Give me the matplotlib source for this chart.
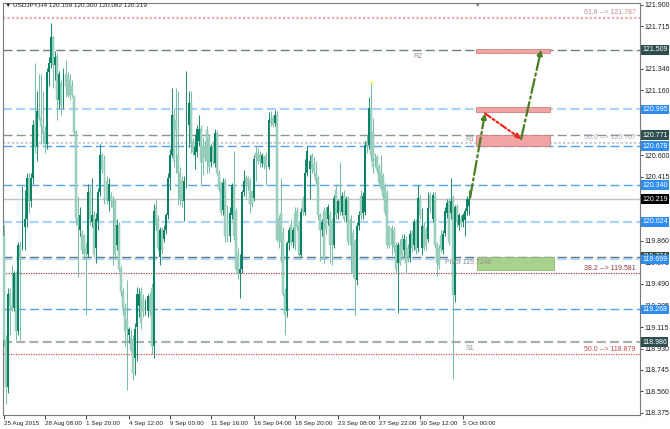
import matplotlib
matplotlib.use('Agg')
import matplotlib.pyplot as plt
from matplotlib.patches import Rectangle
from matplotlib.transforms import blended_transform_factory

# USDJPY H4 bars (open / high / low / close)
opens = [119.90, 119.00, 118.60, 119.40, 119.30, 119.28, 119.58, 119.08, 119.82, 119.80,
         119.98, 120.05, 120.40, 120.20, 120.40, 120.86, 120.68, 120.98, 120.92, 120.85,
         120.80, 120.70, 121.32, 121.40, 121.62, 121.38, 121.45, 121.08, 121.22, 121.03,
         121.30, 121.28, 121.25, 121.20, 121.10, 120.80, 120.06, 119.95, 119.92, 119.90,
         119.80, 119.75, 120.28, 120.02, 120.08, 119.80, 120.03, 120.28, 120.60, 120.55,
         120.38, 120.20, 120.25, 120.20, 120.20, 119.82, 120.00, 119.62, 119.42, 119.28,
         119.18, 119.05, 119.02, 119.00, 118.85, 119.12, 119.30, 119.42, 119.35, 119.28,
         119.25, 119.38, 119.45, 118.95, 120.15, 120.05, 119.72, 119.95, 119.88, 119.95,
         120.08, 120.40, 120.60, 120.95, 120.90, 120.60, 120.45, 120.38, 120.20, 120.38,
         120.86, 121.05, 120.71, 120.60, 120.63, 120.72, 120.83, 120.68, 120.68, 120.82,
         120.75, 120.54, 120.68, 120.53, 120.79, 120.44, 120.36, 120.13, 120.38, 120.05,
         119.90, 120.08, 120.34, 120.11, 119.75, 119.58, 119.62, 120.28, 120.40, 120.40,
         120.38, 120.28, 120.23, 120.62, 120.62, 120.60, 120.53, 120.58, 120.58, 120.50,
         120.92, 120.92, 120.88, 120.95, 120.05, 120.10, 119.93, 119.40, 119.25, 119.84,
         120.00, 119.85, 120.10, 120.12, 119.99, 119.74, 120.20, 120.11, 120.45, 120.48,
         120.60, 120.52, 120.45, 120.40, 120.08, 119.95, 120.12, 120.12, 120.05, 120.08,
         120.03, 119.82, 120.30, 120.10, 120.20, 120.11, 120.25, 120.08, 120.22, 120.05,
         119.93, 119.85, 119.52, 119.99, 120.25, 120.10, 120.11, 120.72, 120.69, 121.01,
         120.80, 120.57, 120.58, 120.50, 120.45, 120.42, 120.34, 120.27, 119.97, 119.97,
         119.95, 119.82, 119.67, 119.82, 119.88, 119.78, 119.87, 119.80, 119.71, 119.92,
         119.82, 120.02, 119.80, 120.23, 119.80, 119.99, 119.95, 119.88, 120.25, 120.05,
         120.25, 119.82, 119.80, 119.90, 119.78, 119.93, 120.10, 120.20, 120.10, 120.23,
         119.39, 120.15, 120.00, 120.05, 120.02, 120.04, 120.12, 120.159]
highs = [120.00, 119.05, 119.45, 119.45, 119.65, 119.60, 119.60, 119.85, 119.86, 120.33,
         120.30, 120.45, 120.45, 120.45, 120.90, 121.40, 121.15, 121.30, 121.30, 121.15,
         120.85, 121.35, 121.45, 121.74, 121.63, 121.50, 121.48, 121.33, 121.25, 121.35,
         121.42, 121.32, 121.30, 121.25, 121.12, 120.82, 120.25, 120.15, 119.95, 119.92,
         119.85, 120.35, 120.33, 120.40, 120.12, 120.10, 120.32, 120.70, 120.62, 120.60,
         120.42, 120.40, 120.28, 120.25, 120.22, 120.05, 120.02, 119.65, 119.45, 119.32,
         119.52, 119.12, 119.10, 119.05, 119.15, 119.46, 119.45, 119.46, 119.40, 119.36,
         119.40, 119.42, 119.50, 120.18, 120.22, 120.08, 119.98, 119.98, 120.00, 120.10,
         120.45, 120.65, 121.18, 121.00, 121.18, 121.15, 120.50, 120.42, 120.42, 121.33,
         121.15, 121.15, 120.75, 120.78, 120.86, 120.95, 120.86, 120.76, 120.72, 120.85,
         120.78, 120.70, 120.72, 120.83, 120.82, 120.47, 120.38, 120.40, 120.40, 120.17,
         120.15, 120.36, 120.64, 120.14, 119.80, 119.75, 120.30, 120.47, 120.43, 120.42,
         120.40, 120.30, 120.60, 120.68, 120.66, 120.64, 120.62, 120.60, 120.63, 120.97,
         120.98, 120.95, 120.99, 120.98, 120.08, 120.40, 119.98, 119.45, 119.86, 119.98,
         120.05, 119.98, 120.15, 120.15, 120.02, 120.14, 120.25, 120.57, 120.68, 120.60,
         120.62, 120.58, 120.55, 120.42, 120.10, 120.05, 120.15, 120.15, 120.18, 120.12,
         120.06, 120.26, 120.35, 120.22, 120.54, 120.28, 120.30, 120.25, 120.25, 120.08,
         119.96, 119.88, 120.02, 120.12, 120.30, 120.28, 120.72, 120.78, 121.10, 121.23,
         120.92, 120.62, 120.60, 120.52, 120.60, 120.45, 120.36, 120.30, 120.00, 120.00,
         119.98, 119.85, 119.85, 119.88, 119.92, 119.92, 119.90, 119.83, 119.95, 119.95,
         120.05, 120.05, 120.34, 120.26, 120.14, 120.02, 119.98, 120.28, 120.28, 120.28,
         120.28, 119.85, 119.82, 119.95, 119.95, 120.15, 120.22, 120.23, 120.40, 120.26,
         120.17, 120.18, 120.10, 120.08, 120.10, 120.14, 120.25, 120.300]
lows = [118.95, 118.45, 118.55, 119.05, 119.25, 119.25, 119.00, 119.05, 119.00, 119.78,
        119.78, 119.98, 120.10, 120.15, 120.35, 120.62, 120.55, 120.90, 120.70, 120.70,
        120.62, 120.65, 121.20, 121.35, 121.18, 121.25, 120.90, 121.00, 120.95, 121.00,
        121.10, 121.10, 121.08, 121.10, 120.78, 120.00, 119.55, 119.90, 119.75, 119.70,
        119.22, 119.72, 120.00, 119.98, 119.72, 119.67, 119.95, 120.25, 120.45, 120.18,
        120.18, 120.12, 120.15, 119.65, 119.70, 119.78, 119.60, 119.38, 119.22, 118.95,
        118.57, 118.98, 118.90, 118.66, 118.70, 118.82, 119.20, 119.10, 119.20, 119.22,
        119.20, 119.22, 118.88, 118.85, 119.95, 119.78, 119.65, 119.75, 119.85, 119.92,
        120.05, 120.30, 120.58, 120.50, 120.45, 120.17, 120.17, 120.15, 120.03, 120.32,
        120.67, 120.62, 120.60, 120.48, 120.58, 120.68, 120.34, 120.43, 120.55, 120.45,
        120.45, 120.50, 120.52, 120.50, 120.43, 120.29, 120.08, 120.08, 119.85, 119.85,
        119.85, 120.05, 119.87, 119.60, 119.53, 119.37, 119.58, 120.25, 120.22, 120.30,
        120.10, 120.15, 120.20, 120.38, 120.52, 120.50, 120.50, 120.48, 120.34, 120.48,
        120.85, 120.84, 120.85, 119.85, 119.80, 119.68, 119.38, 119.05, 119.20, 119.78,
        119.82, 119.80, 119.78, 119.95, 119.70, 119.72, 120.08, 120.08, 120.42, 120.22,
        120.45, 120.42, 120.35, 120.04, 119.69, 119.90, 119.67, 119.92, 120.00, 119.67,
        119.65, 119.80, 120.05, 120.05, 120.08, 120.08, 120.02, 120.02, 119.82, 119.58,
        119.55, 119.22, 119.48, 119.95, 120.05, 120.05, 120.08, 120.62, 120.65, 120.55,
        120.45, 120.50, 120.45, 120.35, 120.30, 120.22, 120.08, 119.80, 119.80, 119.74,
        119.76, 119.58, 119.24, 119.65, 119.70, 119.72, 119.58, 119.68, 119.68, 119.76,
        119.78, 119.75, 119.76, 120.05, 119.74, 119.78, 119.78, 119.85, 120.10, 120.02,
        119.80, 119.56, 119.62, 119.76, 119.75, 119.90, 120.06, 119.82, 120.05, 118.67,
        119.33, 119.98, 119.95, 119.98, 119.98, 119.90, 120.08, 120.082]
closes = [119.00, 118.60, 119.40, 119.30, 119.28, 119.58, 119.08, 119.82, 119.70, 119.98,
          120.05, 120.40, 120.20, 120.40, 120.86, 120.68, 120.98, 120.92, 120.85, 120.78,
          120.70, 121.32, 121.40, 121.62, 121.38, 121.45, 121.08, 121.30, 121.03, 121.30,
          121.20, 121.12, 121.12, 121.12, 120.80, 120.06, 120.00, 120.08, 119.78, 119.75,
          119.75, 120.28, 120.05, 120.08, 119.75, 120.05, 120.28, 120.60, 120.48, 120.22,
          120.22, 120.35, 120.20, 120.15, 119.75, 120.00, 119.62, 119.42, 119.28, 119.08,
          119.10, 119.10, 118.92, 118.72, 119.10, 119.40, 119.40, 119.15, 119.25, 119.33,
          119.38, 119.25, 118.95, 120.12, 120.00, 119.80, 119.95, 119.78, 119.95, 120.08,
          120.40, 120.60, 120.95, 120.55, 120.82, 120.45, 120.22, 120.20, 120.38, 120.86,
          121.05, 120.71, 120.63, 120.67, 120.83, 120.83, 120.54, 120.54, 120.58, 120.55,
          120.50, 120.67, 120.55, 120.79, 120.45, 120.31, 120.11, 120.36, 119.90, 119.89,
          120.10, 120.34, 119.90, 119.62, 119.58, 119.62, 120.28, 120.38, 120.33, 120.35,
          120.18, 120.18, 120.57, 120.58, 120.55, 120.55, 120.60, 120.52, 120.50, 120.90,
          120.88, 120.86, 120.95, 119.87, 119.87, 119.85, 119.40, 119.22, 119.84, 119.95,
          119.85, 119.95, 119.82, 119.98, 119.74, 120.11, 120.11, 120.45, 120.64, 120.55,
          120.48, 120.46, 120.38, 120.08, 119.95, 120.02, 119.70, 119.96, 120.15, 119.82,
          119.82, 120.23, 120.08, 120.20, 120.12, 120.25, 120.05, 120.22, 119.85, 119.82,
          119.58, 119.53, 119.99, 120.08, 120.08, 120.25, 120.69, 120.68, 121.01, 120.60,
          120.50, 120.55, 120.47, 120.37, 120.32, 120.25, 120.11, 119.82, 119.82, 119.82,
          119.80, 119.62, 119.82, 119.67, 119.74, 119.88, 119.67, 119.72, 119.92, 119.80,
          120.02, 119.78, 120.23, 120.08, 119.99, 119.80, 119.82, 120.14, 120.14, 120.26,
          119.82, 119.67, 119.65, 119.80, 119.92, 120.12, 120.19, 119.85, 120.20, 119.39,
          120.15, 120.03, 120.08, 120.01, 120.08, 120.12, 120.22, 120.219]

date_ticks = [0, 20, 40, 61, 81, 101, 122, 142, 163, 183, 203, 224]
date_labels = ['25 Aug 2015', '28 Aug 08:00', '1 Sep 20:00', '4 Sep 12:00',
               '9 Sep 00:00', '11 Sep 16:00', '16 Sep 04:00', '18 Sep 20:00',
               '23 Sep 08:00', '27 Sep 22:00', '30 Sep 12:00', '5 Oct 00:00']
price_ticks = [121.900, 121.715, 121.530, 121.346, 121.160, 120.975, 120.790,
               120.600, 120.415, 120.230, 120.045, 119.860, 119.675, 119.490,
               119.305, 119.115, 118.930, 118.745, 118.560, 118.375]

pivot_names = ['R2', 'R1', 'Pivot', 'S1']
pivot_values = [121.509, 120.771, 119.724, 118.986]
blue_levels = [120.995, 120.678, 120.340, 120.024, 119.699, 119.268]
fib_ratios = ['61.8', '50.0', '38.2', '50.0']
fib_values = [121.787, 120.707, 119.581, 118.879]
last_price = 120.219

# target zones (bar index from/to, price top/bottom) and projected path
zone_x0 = [230.2, 230.2, 230.2, 230.7]
zone_x1 = [266.3, 266.3, 266.3, 268.3]
zone_top = [121.520, 121.015, 120.774, 119.720]
zone_bottom = [121.480, 120.972, 120.678, 119.610]
path_x = [227.3, 234.6, 252.2, 262.0]
path_y = [120.230, 120.960, 120.740, 121.510]

header = '\u25bc USDJPY,H4 120.159 120.300 120.082 120.219'

# ---------------------------------------------------------------
plt.rcParams['font.family'] = ['Liberation Sans', 'DejaVu Sans']
fs = 5.0
bull_col = '#0b8465'
bear_col = '#a2d4c3'
bull_wick = '#2a8d71'
bear_wick = '#7cbfa9'

fig = plt.figure(figsize=(6.7, 4.29), dpi=100, facecolor='white')
ax = fig.add_axes([3 / 670, 14 / 429, 637 / 670, 412 / 429])

for i in range(len(closes)):
    o, c = opens[i], closes[i]
    h = max(abs(c - o), 0.012)
    if c >= o:
        ax.vlines(i, lows[i], highs[i], color=bull_wick, lw=0.75, zorder=3)
        ax.bar(i, h, bottom=o, width=0.95, color=bull_col, lw=0, zorder=3.5)
    else:
        ax.vlines(i, lows[i], highs[i], color=bear_wick, lw=0.75, zorder=2.7)
        ax.bar(i, h, bottom=c, width=0.95, facecolor=bear_col,
               edgecolor=bear_wick, lw=0.3, zorder=2.8)

# horizontal levels
dash = (6.5, 3.0)
pivot_styles = [('#6f7f7b', 1.0), ('#8a9692', 1.0), ('#5f6f6a', 1.0), ('#a8b0ad', 1.6)]
for v, (col, lw) in zip(pivot_values, pivot_styles):
    ax.axhline(v, color=col, lw=lw, dashes=(dash[0] / lw, dash[1] / lw), zorder=2)
blue_styles = [('#a9d2ff', 1.6), ('#4fa3f2', 1.0), ('#4fa3f2', 1.0),
               ('#a9d2ff', 1.6), ('#a9d2ff', 1.6), ('#4fa3f2', 1.0)]
for v, (col, lw) in zip(blue_levels, blue_styles):
    ax.axhline(v, color=col, lw=lw, dashes=(dash[0] / lw, dash[1] / lw), zorder=2)
fib_styles = [('#e7a9ae', 1.6), ('#c9c9d9', 1.6), ('#9b4a4a', 0.9), ('#d25555', 0.9)]
fib_text_cols = ['#c98d92', '#a8a8b0', '#8b3a3a', '#c84848']
for v, (col, lw) in zip(fib_values, fib_styles):
    ax.axhline(v, color=col, lw=lw, dashes=(1.0, 1.0), zorder=2)
ax.axhline(last_price, color='#c4c4c4', lw=1.0, zorder=2)

# zones and projected path
for x0, x1, t, b in zip(zone_x0, zone_x1, zone_top, zone_bottom):
    green = b < last_price
    ax.add_patch(Rectangle((x0, b), x1 - x0, t - b,
                           facecolor='#a9d18e' if green else '#f2a3a3',
                           edgecolor='#8fb874' if green else '#cf7f7f',
                           lw=0.6, zorder=4))
path_cols = ['#4b7d23', '#e8281e', '#4b7d23']
path_ls = ['-.', (0, (3, 1.2, 1, 1.2, 1, 1.2)), '-.']
for k in range(3):
    ax.annotate('', xy=(path_x[k + 1], path_y[k + 1]), xytext=(path_x[k], path_y[k]),
                arrowprops=dict(arrowstyle='-|>', color=path_cols[k], lw=1.6,
                                linestyle=path_ls[k], mutation_scale=7,
                                shrinkA=0, shrinkB=0),
                zorder=6)

# level texts on the chart
ax.text(199.5, 121.456, 'R2', fontsize=fs, color='#8c8c8c', va='center', zorder=5)
ax.text(224.8, 120.731, 'R1', fontsize=fs, color='#8c8c8c', va='center', zorder=5)
ax.text(215.0, 119.677, 'Pivot 119.7240', fontsize=fs, color='#8c8c8c', va='center', zorder=5)
ax.text(225.0, 118.934, 'S1', fontsize=fs, color='#8c8c8c', va='center', zorder=5)
trans = blended_transform_factory(ax.transAxes, ax.transData)
for r, v, col in zip(fib_ratios, fib_values, fib_text_cols):
    ax.text(0.993, v + 0.012, f'{r} --> {v:.3f}', transform=trans, fontsize=fs,
            color=col, ha='right', va='bottom', zorder=5)
ax.scatter([179], [121.23], s=4, color='#ffff40', zorder=6, lw=0)

# price boxes on the right scale
box_items = ([(v, '#2f4f4f') for v in pivot_values]
             + [(v, '#2f8df0') for v in blue_levels]
             + [(last_price, '#000000')])
for v, col in box_items:
    ax.text(1.0035, v, f'{v:.3f}', transform=trans, fontsize=fs, color='white',
            ha='left', va='center', clip_on=False, zorder=7,
            bbox=dict(boxstyle='square,pad=0.2', fc=col, ec='none'))

ax.set_xlim(-0.5, 310.2)
ax.set_ylim(118.356, 121.914)
ax.yaxis.tick_right()
ax.set_yticks(price_ticks)
ax.set_yticklabels([f'{p:.3f}' for p in price_ticks])
ax.set_xticks(date_ticks)
ax.set_xticklabels(date_labels)
for lbl in ax.get_xticklabels():
    lbl.set_ha('left')
ax.tick_params(axis='y', labelsize=fs, colors='#202020', length=2, width=0.6, pad=1)
ax.tick_params(axis='x', labelsize=4.5, colors='#202020', length=3, width=0.6, pad=1.5)
for s in ax.spines.values():
    s.set_color('#7a7a7a')
    s.set_linewidth(0.8)

fig.text(5 / 670, 1 - 5 / 429, header, fontsize=4.6, color='#202020', va='center')
ax.text(230.9, 121.895, '\u25bc', fontsize=4, color='#6a6a80', ha='center', va='center',
        zorder=6)

fig.savefig('out.png', dpi=100, facecolor='white')
